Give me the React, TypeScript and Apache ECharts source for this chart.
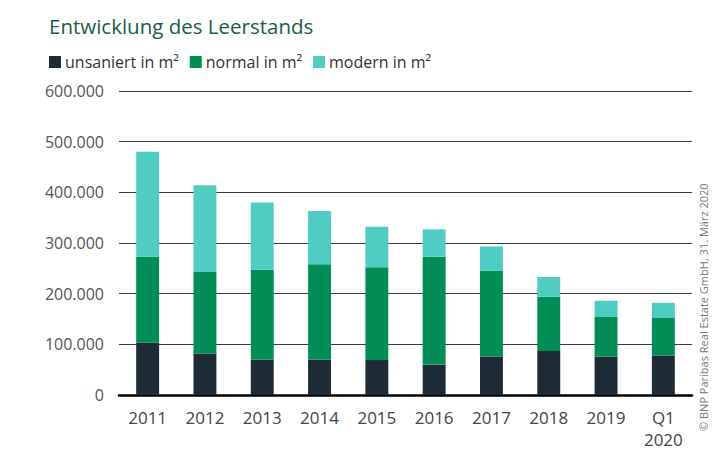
import React, { useEffect, useRef } from "react";
import * as echarts from "echarts";

const categories = ["2011", "2012", "2013", "2014", "2015", "2016", "2017", "2018", "2019", "Q1\n2020"];
const unsaniert = [103000, 82000, 70000, 70000, 69000, 60000, 76000, 87000, 76000, 78000];
const normal = [170000, 161000, 177000, 188000, 183000, 213000, 169000, 107000, 78000, 74000];
const modern = [207000, 171000, 133000, 105000, 80000, 54000, 48000, 39000, 32000, 30000];
const seriesNames = ["unsaniert in m²", "normal in m²", "modern in m²"];
const colors = ["#1c2b36", "#008e57", "#4fcdc5"];

const fmt = (v: number) => {
  if (v === 0) return "0";
  const s = String(Math.round(v));
  return s.replace(/\B(?=(\d{3})+(?!\d))/g, ".");
};

export default function App() {
  const ref = useRef<HTMLDivElement>(null);
  useEffect(() => {
    if (!ref.current) return;
    const chart = echarts.init(ref.current, undefined, { renderer: "svg" });
    const font = "Open Sans";
    const data = [unsaniert, normal, modern];
    chart.setOption({
      animation: false,
      backgroundColor: "#ffffff",
      title: {
        text: "Entwicklung des Leerstands",
        left: 44,
        top: 10,
        textStyle: { color: "#1b5c44", fontSize: 20.5, fontWeight: 500, fontFamily: font },
      },
      legend: {
        left: 44,
        top: 49,
        icon: "rect",
        itemWidth: 12,
        itemHeight: 12,
        itemGap: 11,
        textStyle: { color: "#333", fontSize: 16, fontFamily: font, padding: [0, 0, 0, -1] },
        data: seriesNames,
      },
      grid: { left: 119, right: 28, top: 91, bottom: 80 },
      xAxis: {
        type: "category",
        data: categories,
        axisLine: { lineStyle: { color: "#000", width: 2.5 } },
        axisTick: { show: false },
        axisLabel: { color: "#444", fontSize: 17, fontFamily: font, margin: 11, lineHeight: 22 },
      },
      yAxis: {
        type: "value",
        min: 0,
        max: 600000,
        interval: 100000,
        axisLine: { show: false },
        axisTick: { show: false },
        splitLine: { lineStyle: { color: "#3a3a3a", width: 1 } },
        axisLabel: { color: "#555", fontSize: 16, fontFamily: font, margin: 15, formatter: fmt },
      },
      series: seriesNames.map((name, i) => ({
        name,
        type: "bar",
        stack: "total",
        barWidth: "40%",
        itemStyle: { color: colors[i] },
        data: data[i],
      })),
      graphic: [
        {
          type: "text",
          x: 703,
          y: 431,
          rotation: Math.PI / 2,
          style: {
            text: "© BNP Paribas Real Estate GmbH, 31. März 2020",
            fill: "#777",
            fontSize: 11,
            fontFamily: font,
            textAlign: "left",
            textVerticalAlign: "middle",
          },
        },
      ],
    });
    return () => chart.dispose();
  }, []);
  return <div ref={ref} style={{ width: 720, height: 475, position: "absolute", left: 0, top: 0 }} />;
}
